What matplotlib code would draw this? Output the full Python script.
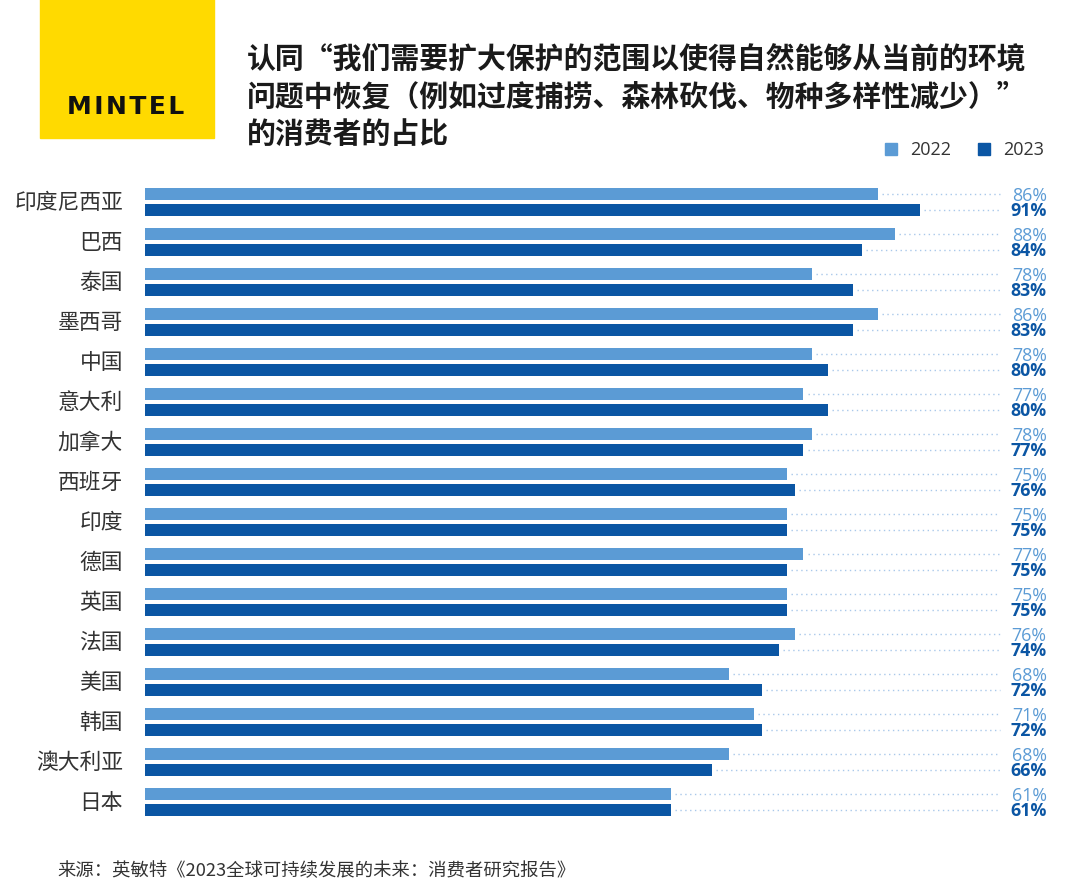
import matplotlib.pyplot as plt
from matplotlib.patches import Rectangle

plt.rcParams['font.family'] = ['Noto Sans CJK SC', 'DejaVu Sans']

countries = ['印度尼西亚', '巴西', '泰国', '墨西哥', '中国', '意大利', '加拿大', '西班牙',
             '印度', '德国', '英国', '法国', '美国', '韩国', '澳大利亚', '日本']
v2022 = [86, 88, 78, 86, 78, 77, 78, 75, 75, 77, 75, 76, 68, 71, 68, 61]
v2023 = [91, 84, 83, 83, 80, 80, 77, 76, 75, 75, 75, 74, 72, 72, 66, 61]
years = ['2022', '2023']

c_light = '#5B9BD5'
c_dark = '#0B56A4'
txt = '#333333'

fig = plt.figure(figsize=(10.8, 8.95), dpi=100)
W, H = 1080, 895

# main axes
ax = fig.add_axes([145 / W, 1 - 823 / H, (1050 - 145) / W, 640 / H])
x0 = -2.3
ax.set_xlim(x0, 106.7)
ax.set_ylim(15.5, -0.5)
ax.axis('off')

bh = 0.3
off = 0.19
for i, (a, b) in enumerate(zip(v2022, v2023)):
    ax.barh(i - off, a - x0, left=x0, height=bh, color=c_light, edgecolor='none')
    ax.barh(i + off, b - x0, left=x0, height=bh, color=c_dark, edgecolor='none')
    ax.plot([a + 0.5, 100.7], [i - off, i - off], ls=(0, (1, 2.5)), lw=1, color='#A9C8EA')
    ax.plot([b + 0.5, 100.7], [i + off, i + off], ls=(0, (1, 2.5)), lw=1, color='#A9C8EA')
    ax.text(106.3, i - off + 0.02, f'{a}%', ha='right', va='center', fontsize=12.8,
            color=c_light, family=['Open Sans', 'DejaVu Sans'])
    ax.text(106.3, i + off + 0.02, f'{b}%', ha='right', va='center', fontsize=12.8,
            color=c_dark, fontweight='bold', family=['Open Sans', 'DejaVu Sans'])
    fig.text(123 / W, 1 - (203 + 40 * i) / H, countries[i], ha='right', va='center',
             fontsize=15.7, color=txt)

# logo
fig.patches.append(Rectangle((40 / W, 1 - 139 / H), 174 / W, 139 / H,
                             transform=fig.transFigure, color='#FFDA00', zorder=0))
fig.text(126 / W, 1 - 107 / H, 'M\u200aI\u200aN\u200aT\u200aE\u200aL', ha='center', va='center',
         fontsize=18, fontweight='bold', color='#111111', family=['DejaVu Sans'])

# title
title = ['认同“我们需要扩大保护的范围以使得自然能够从当前的环境',
         '问题中恢复（例如过度捕捞、森林砍伐、物种多样性减少）”',
         '的消费者的占比']
for k, line in enumerate(title):
    fig.text(247 / W, 1 - (60 + 37 * k) / H, line, ha='left', va='center',
             fontsize=20.8, fontweight='bold', color='#1a1a1a')

# legend
for x_sq, col, lab in [(885, c_light, years[0]), (978, c_dark, years[1])]:
    fig.patches.append(Rectangle((x_sq / W, 1 - 156 / H), 12 / W, 12 / H,
                                 transform=fig.transFigure, color=col))
    fig.text((x_sq + 25) / W, 1 - 150 / H, lab, ha='left', va='center', fontsize=13,
             color=txt, family=['Open Sans', 'DejaVu Sans'])

# footer
fig.text(57 / W, 1 - 871 / H, '来源：英敏特《2023全球可持续发展的未来：消费者研究报告》',
         ha='left', va='center', fontsize=13.2, color=txt)

fig.savefig('out.png', dpi=100)
